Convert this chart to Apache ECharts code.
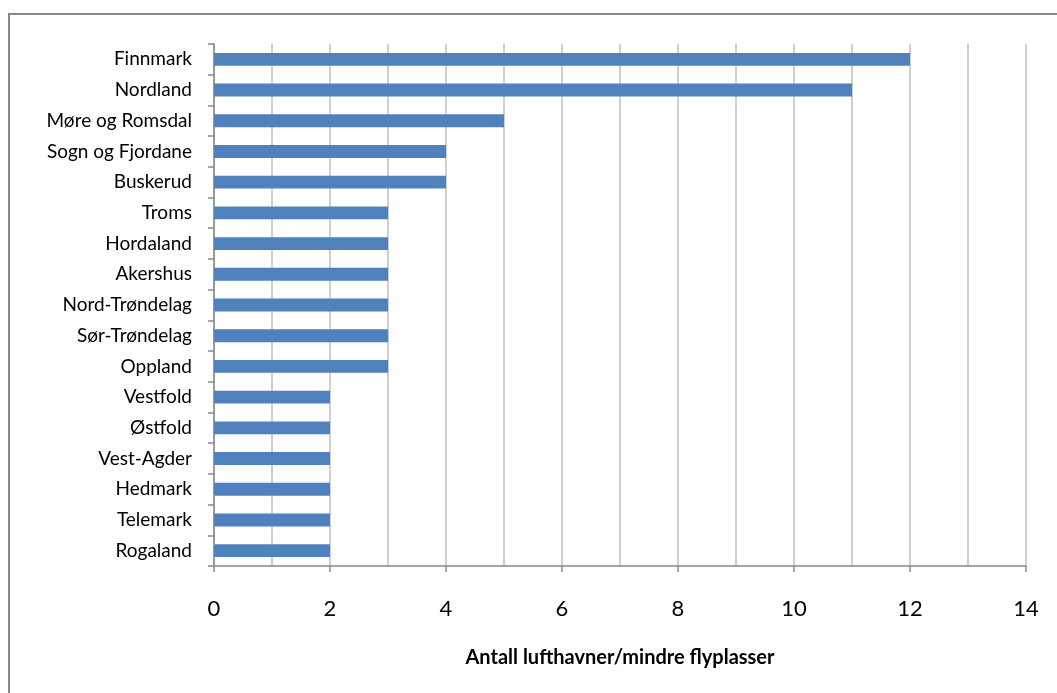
<!DOCTYPE html>
<html>
<head>
<meta charset="utf-8">
<script src="https://cdn.jsdelivr.net/npm/echarts@6/dist/echarts.min.js"></script>
<style>
html,body{margin:0;padding:0;background:#fff;}
#c{width:1057px;height:693px;}
</style>
</head>
<body>
<div id="c"></div>
<script>
const categories = ["Finnmark","Nordland","Møre og Romsdal","Sogn og Fjordane","Buskerud","Troms","Hordaland","Akershus","Nord-Trøndelag","Sør-Trøndelag","Oppland","Vestfold","Østfold","Vest-Agder","Hedmark","Telemark","Rogaland"];
const values = [12,11,5,4,4,3,3,3,3,3,3,2,2,2,2,2,2];
const xTicks = [0,2,4,6,8,10,12,14];
const axisTitle = "Antall lufthavner/mindre flyplasser";

const chart = echarts.init(document.getElementById('c'), null, {renderer:'canvas'});
chart.setOption({
  animation:false,
  backgroundColor:'#fff',
  graphic:[{type:'rect',shape:{x:9,y:14,width:1200,height:900},style:{fill:'none',stroke:'#878787',lineWidth:2},silent:true}],
  grid:{left:214,right:31,top:44,bottom:127,containLabel:false},
  xAxis:{
    type:'value',min:xTicks[0],max:xTicks[xTicks.length-1],interval:2,
    name:axisTitle,nameLocation:'middle',nameGap:82,
    nameTextStyle:{fontFamily:'Lato',fontWeight:'bold',fontSize:20,color:'#000'},
    axisLine:{show:true,lineStyle:{color:'#888',width:1.5}},
    axisTick:{show:true,length:6,lineStyle:{color:'#888',width:1.5}},
    axisLabel:{fontFamily:'Lato',fontSize:22,color:'#000',margin:32},
    splitLine:{show:true,lineStyle:{color:'#C0C0C0',width:1.5}},
    minorTick:{show:false,splitNumber:2},
    minorSplitLine:{show:true,lineStyle:{color:'#C0C0C0',width:1.5}}
  },
  yAxis:{
    type:'category',data:categories,inverse:true,
    axisLine:{show:true,lineStyle:{color:'#888',width:1.5}},
    axisTick:{show:true,length:6,lineStyle:{color:'#888',width:1.5}},
    axisLabel:{fontFamily:'Lato',fontSize:19,color:'#000',margin:22}
  },
  series:[{type:'bar',data:values,barCategoryGap:'58%',itemStyle:{color:'#4F81BD'}}]
});
</script>
</body>
</html>
